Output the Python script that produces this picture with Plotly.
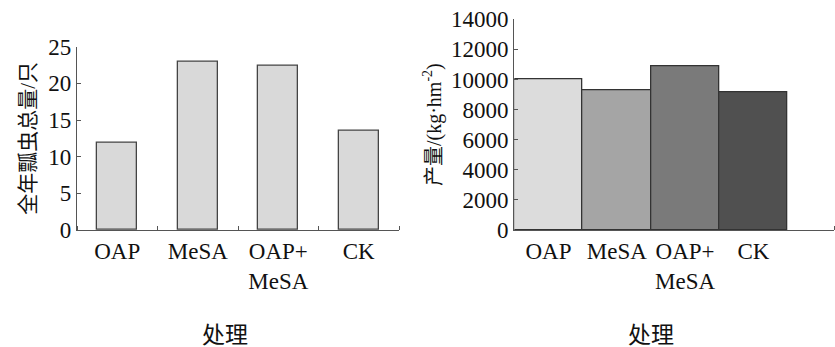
import plotly.graph_objects as go

categories = ["OAP", "MeSA", "OAP+<br>MeSA", "CK"]
beetles = [11.9, 23.0, 22.4, 13.5]
yields = [10000, 9300, 10870, 9150]
yield_colors = ["#dcdcdc", "#a5a5a5", "#7a7a7a", "#505050"]
left_yticks = [0, 5, 10, 15, 20, 25]
right_yticks = [0, 2000, 4000, 6000, 8000, 10000, 12000, 14000]
xlabel = "处理"

W, H = 835, 347
FONT = "Liberation Serif, Times New Roman, Noto Sans CJK SC, serif"
AX = "#555555"
FS = 23
xpos = list(range(len(categories)))
right_xmax = 4.18

fig = go.Figure()
fig.add_trace(go.Bar(x=xpos, y=beetles, width=0.5, marker=dict(color="#d9d9d9",
                     line=dict(color="#444444", width=1.3)), xaxis="x", yaxis="y"))
fig.add_trace(go.Bar(x=xpos, y=yields, width=1.0, marker=dict(color=yield_colors,
                     line=dict(color="#333333", width=1.3)), xaxis="x2", yaxis="y2"))

def ydom(top_px, bot_px):
    return [(H - bot_px) / H, (H - top_px) / H]

common_x = dict(showline=True, linecolor=AX, linewidth=1.3, tickvals=xpos, ticktext=categories,
                ticks="", showgrid=False, zeroline=False, automargin=False,
                tickfont=dict(size=FS, color="#111"))
common_y = dict(ticks="inside", ticklen=4, tickcolor=AX, showline=True, linecolor=AX,
                linewidth=1.3, showgrid=False, zeroline=False, automargin=False,
                tickfont=dict(size=FS, color="#111"), tickformat="d")
fig.update_layout(
    width=W, height=H, margin=dict(l=0, r=0, t=0, b=0), showlegend=False,
    plot_bgcolor="white", paper_bgcolor="white", font=dict(family=FONT, color="#111"),
    xaxis=dict(common_x, domain=[77 / W, 399 / W], range=[-0.5, 3.5], anchor="y",
               minor=dict(ticks="inside", ticklen=4, tickcolor=AX, tick0=-0.5, dtick=1)),
    yaxis=dict(common_y, domain=ydom(46.7, 230), range=[0, 25], tickvals=left_yticks, anchor="x",
               title=dict(text="全年瓢虫总量/只", font=dict(size=21, color="#111"), standoff=6)),
    xaxis2=dict(common_x, domain=[514.3 / W, 834 / W], range=[-0.5, right_xmax], anchor="y2",
                minor=dict(ticks="inside", ticklen=4, tickcolor=AX, tickvals=[right_xmax])),
    yaxis2=dict(common_y, domain=ydom(19.3, 230), range=[0, 14000], tickvals=right_yticks,
                anchor="x2",
                title=dict(text="产量/(kg·hm<sup>-2</sup>)", font=dict(size=20, color="#111"), standoff=4)),
    bargap=0,
)
for xc in (225, 651):
    fig.add_annotation(text=xlabel, xref="paper", yref="paper", x=xc / W, y=(H - 335) / H,
                       xanchor="center", yanchor="middle", showarrow=False,
                       font=dict(size=23, color="#111"))
fig.write_html("out.html", config={"displayModeBar": False},
               post_script="document.body.style.margin='0';document.body.style.overflow='hidden';")
